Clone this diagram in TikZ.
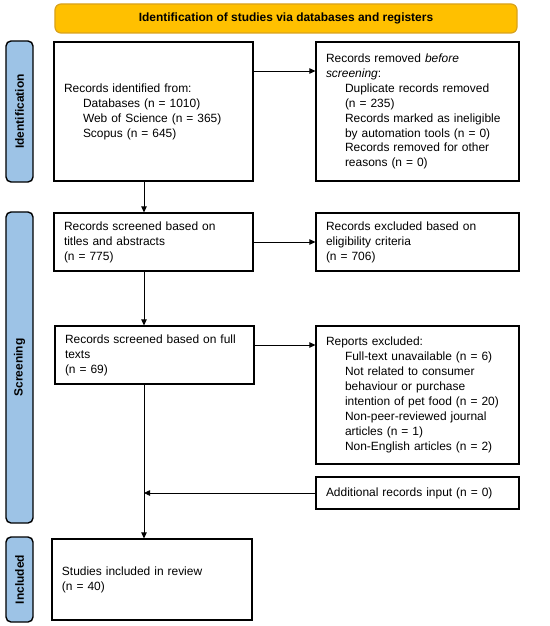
\documentclass[tikz,border=0pt]{standalone}
\usepackage{fontspec}
\setmainfont{Liberation Sans}
\usetikzlibrary{arrows.meta, positioning, calc}

\definecolor{prismaorange}{HTML}{FFC000}
\definecolor{prismaedge}{HTML}{D9A21B}
\definecolor{prismablue}{HTML}{9DC3E6}
\newcommand{\indt}{\hspace*{19bp}}

\begin{document}
\begin{tikzpicture}[
  x=1bp, y=-1bp,
  every node/.style={font=\fontsize{12}{15}\selectfont},
  box/.style={rectangle, draw, line width=1.2bp, align=left, inner xsep=10bp, inner ysep=4bp},
  titlebar/.style={rectangle, draw=prismaedge, fill=prismaorange, rounded corners=6bp, line width=1.2bp, minimum width=462bp, minimum height=29bp, font=\fontsize{12}{15}\selectfont\bfseries},
  phase/.style={rectangle, draw, rounded corners=5bp, fill=prismablue, line width=1.4bp, rotate=90, minimum height=27bp, font=\fontsize{12}{15}\selectfont\bfseries},
  flow/.style={draw, line width=0.8bp, -{Triangle[length=6bp, width=5.5bp]}}
]
\useasboundingbox (0,0) rectangle (550,626);

\node[titlebar] (title) at (286,18.5) {Identification of studies via databases and registers};

\node[phase, minimum width=141bp] (idlab) at (19.5,111.5) {Identification};
\node[phase, minimum width=311bp] (scrlab) at (19.5,367.5) {Screening};
\node[phase, minimum width=85bp] (inclab) at (19.5,579.5) {Included};

\node[box, text width=179bp, minimum height=139bp] (ident) at (153.5,111.5)
  {Records identified from:\\ \indt Databases (n = 1010)\\ \indt Web of Science (n = 365)\\ \indt Scopus (n = 645)};
\node[box, text width=183bp, minimum height=139bp] (removed) at (417.5,111.5)
  {Records removed \textit{before}\\ \textit{screening}:\\ \indt Duplicate records removed\\ \indt (n = 235)\\ \indt Records marked as ineligible\\ \indt by automation tools (n = 0)\\ \indt Records removed for other\\ \indt reasons (n = 0)};
\node[box, text width=179bp, minimum height=58bp] (screen) at (153.5,242)
  {Records screened based on\\ titles and abstracts\\ (n = 775)};
\node[box, text width=183bp, minimum height=58bp] (excl) at (417.5,242)
  {Records excluded based on\\ eligibility criteria\\ (n = 706)};
\node[box, text width=179bp, minimum height=58bp] (full) at (154.5,355)
  {Records screened based on full\\ texts\\ (n = 69)};
\node[box, text width=183bp, minimum height=138bp] (reports) at (417.5,395)
  {Reports excluded:\\ \indt Full-text unavailable (n = 6)\\ \indt Not related to consumer\\ \indt behaviour or purchase\\ \indt intention of pet food (n = 20)\\ \indt Non-peer-reviewed journal\\ \indt articles (n = 1)\\ \indt Non-English articles (n = 2)};
\node[box, text width=183bp, minimum height=32bp] (addl) at (417.5,493)
  {Additional records input (n = 0)};
\node[box, text width=180bp, minimum height=81bp] (incl) at (152,579.5)
  {Studies included in review\\ (n = 40)};

\coordinate (mrg) at (144,493);

\draw[flow] ([yshift=40.5bp]ident.east) -- ([yshift=40.5bp]ident.east -| removed.west);
\draw[flow] (ident.south -| mrg) -- (screen.north -| mrg);
\draw[flow] (screen.east) -- (excl.west);
\draw[flow] (screen.south -| mrg) -- (full.north -| mrg);
\draw[flow] ([yshift=10bp]full.east) -- ([yshift=10bp]full.east -| reports.west);
\draw[flow] (full.south -| mrg) -- (incl.north -| mrg);
\draw[flow] (addl.west) -- (mrg);

\end{tikzpicture}
\end{document}
